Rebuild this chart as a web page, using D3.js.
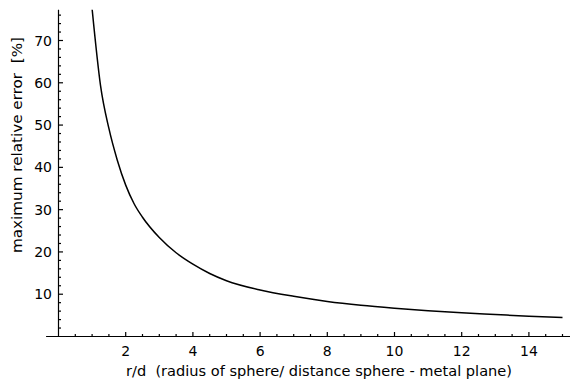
<!DOCTYPE html>
<html><head><meta charset="utf-8">
<script src="https://cdn.jsdelivr.net/npm/d3@7"></script>
<style>body{margin:0;background:#fff}svg{display:block}text{font-family:"DejaVu Sans",sans-serif;fill:#000;white-space:pre}</style>
</head><body><svg id="c" width="570" height="381"></svg>
<script>
const ratio = [1, 1.25, 1.5, 1.75, 2, 2.25, 2.5, 3, 3.5, 4, 4.5, 5, 6, 7, 8, 9, 10, 11, 12, 13, 14, 15];
const errorPct = [77.5, 59.4, 49.2, 41.7, 35.8, 31.4, 28.2, 23.4, 19.8, 17.1, 14.9, 13.2, 11.0, 9.5, 8.3, 7.4, 6.7, 6.1, 5.6, 5.2, 4.8, 4.5];
const xTicks = [2, 4, 6, 8, 10, 12, 14];
const yTicks = [10, 20, 30, 40, 50, 60, 70];
const xLabel = "r/d  (radius of sphere/ distance sphere - metal plane)";
const yLabel = "maximum relative error  [%]";

const svg = d3.select("#c");
const x = d3.scaleLinear().domain([0, 15]).range([58.5, 562.5]);
const y = d3.scaleLinear().domain([0, 70]).range([336.5, 40.5]);
const xMin = -0.37, xMax = 15.23, yMax = 77.3;

const g = svg.append("g");
g.append("line").attr("x1", x(xMin)).attr("x2", x(xMax)).attr("y1", y(0)).attr("y2", y(0)).attr("stroke", "#000").attr("stroke-width", 1.2);
g.append("line").attr("x1", x(0)).attr("x2", x(0)).attr("y1", y(0)).attr("y2", y(yMax)).attr("stroke", "#000").attr("stroke-width", 1.2);

const xMinor = d3.range(0.5, 15.01, 0.5).filter(v => v % 2 !== 0);
g.selectAll(".xmin").data(xMinor).enter().append("line")
  .attr("x1", d => x(d)).attr("x2", d => x(d)).attr("y1", y(0)).attr("y2", y(0) - 2.5)
  .attr("stroke", "#000").attr("stroke-width", 1.2);
g.selectAll(".xmaj").data(xTicks).enter().append("line")
  .attr("x1", d => x(d)).attr("x2", d => x(d)).attr("y1", y(0)).attr("y2", y(0) - 4.5)
  .attr("stroke", "#000").attr("stroke-width", 1.2);
g.selectAll(".xlab").data(xTicks).enter().append("text")
  .attr("x", d => x(d)).attr("y", 356).attr("text-anchor", "middle")
  .attr("font-size", 14).text(d => d);

const yMinor = d3.range(2, 77, 2).filter(v => v % 10 !== 0);
g.selectAll(".ymin").data(yMinor).enter().append("line")
  .attr("x1", x(0)).attr("x2", x(0) + 2.5).attr("y1", d => y(d)).attr("y2", d => y(d))
  .attr("stroke", "#000").attr("stroke-width", 1.2);
g.selectAll(".ymaj").data(yTicks).enter().append("line")
  .attr("x1", x(0)).attr("x2", x(0) + 4.5).attr("y1", d => y(d)).attr("y2", d => y(d))
  .attr("stroke", "#000").attr("stroke-width", 1.2);
g.selectAll(".ylab").data(yTicks).enter().append("text")
  .attr("x", 52).attr("y", d => y(d) + 5).attr("text-anchor", "end")
  .attr("font-size", 14).text(d => d);

svg.append("text").attr("x", 319).attr("y", 376).attr("text-anchor", "middle")
  .attr("font-size", 14).attr("textLength", 386).attr("lengthAdjust", "spacingAndGlyphs").text(xLabel);
svg.append("text").attr("transform", "translate(22,145) rotate(-90)").attr("text-anchor", "middle")
  .attr("font-size", 14).attr("textLength", 216).attr("lengthAdjust", "spacingAndGlyphs").text(yLabel);

svg.append("clipPath").attr("id", "clip").append("rect")
  .attr("x", x(0)).attr("y", y(yMax)).attr("width", x(xMax) - x(0)).attr("height", y(0) - y(yMax));
const pts = ratio.map((r, i) => [r, errorPct[i]]);
svg.append("path").datum(pts).attr("clip-path", "url(#clip)")
  .attr("d", d3.line().curve(d3.curveMonotoneX).x(d => x(d[0])).y(d => y(d[1])))
  .attr("fill", "none").attr("stroke", "#000").attr("stroke-width", 1.5);
</script></body></html>
